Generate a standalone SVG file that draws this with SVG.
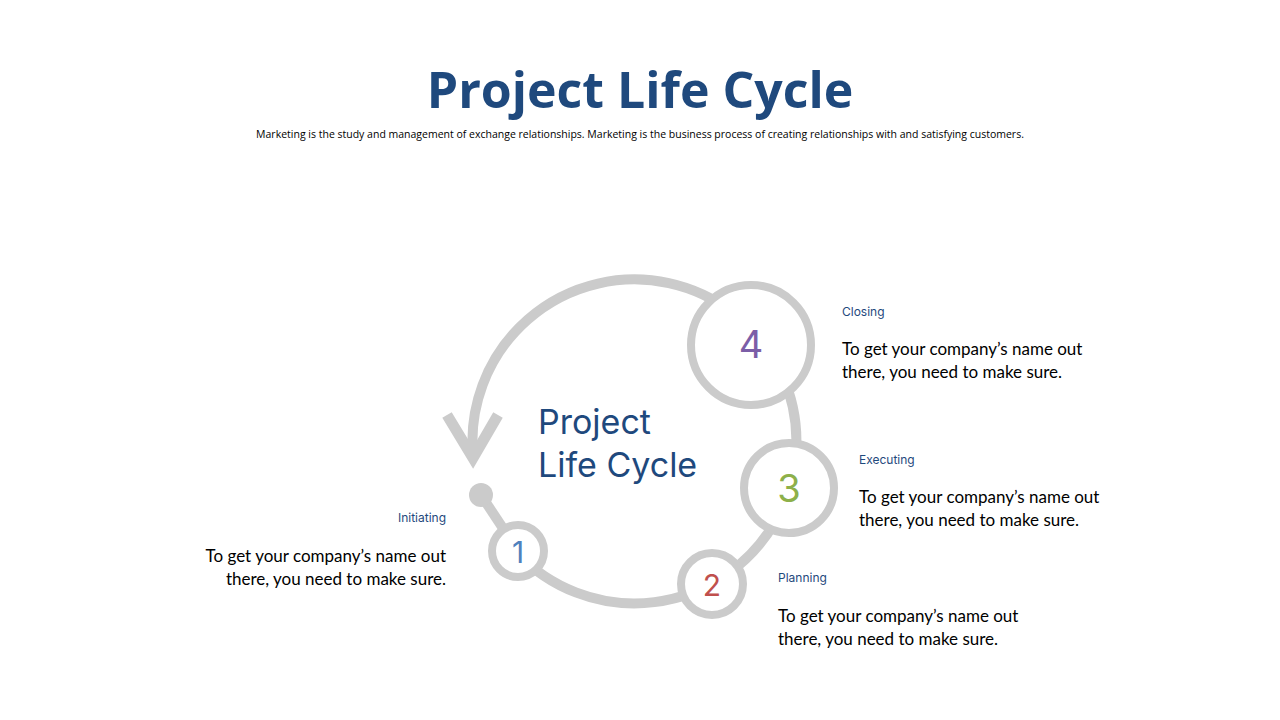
<svg xmlns="http://www.w3.org/2000/svg" width="1280" height="720" viewBox="0 0 1280 720">
<style>
.t{font-family:"Open Sans","Liberation Sans",sans-serif;font-weight:bold;fill:#1F497D}
.s{font-family:"Open Sans","Liberation Sans",sans-serif;font-size:10.5px;fill:#000}
.lb{font-family:Inter,"Liberation Sans",sans-serif;font-size:12px;fill:#1F497D}
.b{font-family:Lato,"Liberation Sans",sans-serif;font-size:17px;fill:#000}
.ring{fill:#fff;stroke:#CBCBCB;stroke-width:8}
.n{font-family:Inter,"Liberation Sans",sans-serif;text-anchor:middle}
</style>
<rect width="1280" height="720" fill="#fff"/>
<text class="t" x="640" y="108" font-size="50" text-anchor="middle">Project Life Cycle</text>
<text class="s" x="640" y="138" text-anchor="middle">Marketing is the study and management of exchange relationships. Marketing is the business process of creating relationships with and satisfying customers.</text>
<g id="connectors" fill="none" stroke="#CBCBCB" stroke-width="10" stroke-linecap="butt">
<path d="M473,455 A162,162 0 1 1 517,553"/>
<path d="M481,495 L518,551"/>
<path d="M447,415 L473,458 L498,415" stroke-width="11"/>
</g>
<circle cx="481" cy="495" r="12" fill="#CBCBCB"/>
<g id="node4"><circle class="ring" cx="751" cy="345" r="60"/><text class="n" x="751" y="358" font-size="38" fill="#7B5EA7">4</text></g>
<g id="node3"><circle class="ring" cx="789" cy="488" r="45"/><text class="n" x="789" y="502" font-size="38" fill="#8DB04A">3</text></g>
<g id="node2"><circle class="ring" cx="712" cy="584" r="31"/><text class="n" x="712" y="596" font-size="30" fill="#C0504D">2</text></g>
<g id="node1"><circle class="ring" cx="518" cy="551" r="26"/><text class="n" x="518" y="563" font-size="30" fill="#4F81BD">1</text></g>
<g id="center"><text font-family="Inter,'Liberation Sans',sans-serif" font-size="34" fill="#1F497D"><tspan x="538" y="434">Project</tspan><tspan x="538" y="477">Life Cycle</tspan></text></g>
<g id="closing"><text class="lb" x="842" y="316">Closing</text><text class="b"><tspan x="842" y="355">To get your company’s name out</tspan><tspan x="842" y="378">there, you need to make sure.</tspan></text></g>
<g id="executing"><text class="lb" x="859" y="464">Executing</text><text class="b"><tspan x="859" y="503">To get your company’s name out</tspan><tspan x="859" y="526">there, you need to make sure.</tspan></text></g>
<g id="planning"><text class="lb" x="778" y="582">Planning</text><text class="b"><tspan x="778" y="622">To get your company’s name out</tspan><tspan x="778" y="645">there, you need to make sure.</tspan></text></g>
<g id="initiating" text-anchor="end"><text class="lb" x="446" y="522">Initiating</text><text class="b"><tspan x="446" y="562">To get your company’s name out</tspan><tspan x="446" y="585">there, you need to make sure.</tspan></text></g>
</svg>
